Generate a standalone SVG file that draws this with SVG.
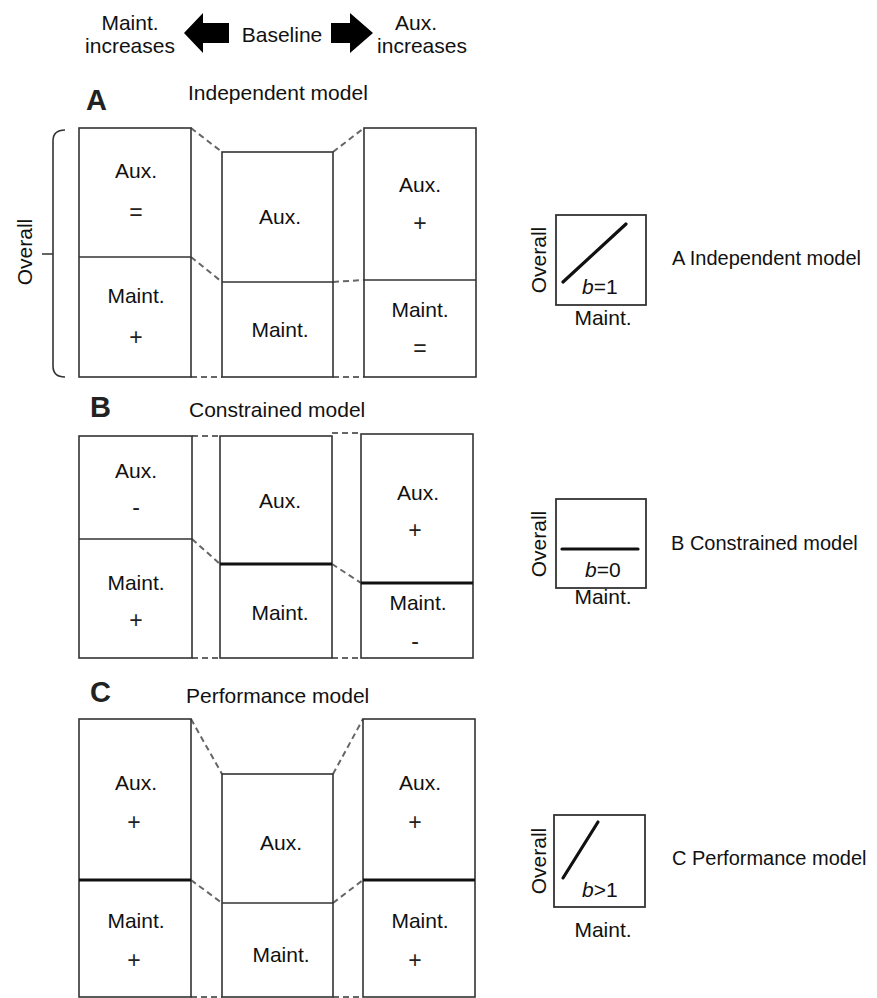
<svg xmlns="http://www.w3.org/2000/svg" width="877" height="998" viewBox="0 0 877 998">
<style>
text{font-family:"Liberation Sans",Arial,sans-serif;font-size:21px;fill:#111}
.c{text-anchor:middle}
.big{font-size:29px;font-weight:bold;fill:#222}
.lab{font-size:20px}
.box{fill:#fff;stroke:#333;stroke-width:1.6}
.div{stroke:#333;stroke-width:1.6;fill:none}
.thick{stroke:#111;stroke-width:3.2;fill:none}
.dash{stroke:#666;stroke-width:2;stroke-dasharray:6 4;fill:none}
.plot{fill:#fff;stroke:#333;stroke-width:1.8}
.pl{stroke:#111;stroke-width:3.2;stroke-linecap:round;fill:none}
.sym{fill:#222;font-size:23px}
</style>
<rect width="877" height="998" fill="#fff"/>

<g id="header">
<text class="c" x="130" y="30">Maint.</text>
<text class="c" x="130" y="53">increases</text>
<polygon points="184,33 203,13 203,23 229,23 229,43 203,43 203,53" fill="#000"/>
<text class="c" x="282" y="42">Baseline</text>
<polygon points="373,33 350,13 350,23 331,23 331,43 350,43 350,53" fill="#000"/>
<text class="c" x="416" y="30">Aux.</text>
<text class="c" x="422" y="53">increases</text>
</g>

<g id="titles">
<text class="big" x="86" y="110">A</text>
<text x="188" y="100">Independent model</text>
<text class="big" x="90" y="417">B</text>
<text x="189" y="417">Constrained model</text>
<text class="big" x="90" y="702">C</text>
<text x="186" y="703">Performance model</text>
</g>

<g id="overall-bracket">
<path d="M65,130 Q53,130 53,141 L53,366 Q53,377 65,377 M42,254 L53,254" fill="none" stroke="#333" stroke-width="1.6"/>
<text class="c" transform="translate(32,252) rotate(-90)">Overall</text>
</g>

<g id="connectors">
<path class="dash" d="M191,128 L222,152 M333,152 L364,128 M191,257 L222,282 M333,282 L364,280 M191,377 L222,377 M333,377 L364,377"/>
<path class="dash" d="M192,436 L220,436 M332,433 L361,433 M192,539 L220,564 M332,564 L361,583 M192,658 L220,658 M332,658 L361,658"/>
<path class="dash" d="M191,719 L222,774 M333,774 L363,719 M191,880 L222,903 M333,903 L363,880 M191,997 L222,997 M333,997 L363,997"/>
</g>

<g id="A-left">
<rect class="box" x="79" y="128" width="112" height="249"/>
<line class="div" x1="79" y1="257" x2="191" y2="257"/>
<text class="c" x="136" y="178">Aux.</text>
<text class="c sym" x="136" y="220">=</text>
<text class="c" x="136" y="303">Maint.</text>
<text class="c sym" x="136" y="345">+</text>
</g>
<g id="A-mid">
<rect class="box" x="222" y="152" width="111" height="225"/>
<line class="div" x1="222" y1="282" x2="333" y2="282"/>
<text class="c" x="280" y="224">Aux.</text>
<text class="c" x="280" y="337">Maint.</text>
</g>
<g id="A-right">
<rect class="box" x="364" y="128" width="112" height="249"/>
<line class="div" x1="364" y1="280" x2="476" y2="280"/>
<text class="c" x="420" y="192">Aux.</text>
<text class="c sym" x="420" y="231">+</text>
<text class="c" x="420" y="317">Maint.</text>
<text class="c sym" x="420" y="356">=</text>
</g>

<g id="B-left">
<rect class="box" x="79" y="436" width="113" height="222"/>
<line class="div" x1="79" y1="539" x2="192" y2="539"/>
<text class="c" x="136" y="478">Aux.</text>
<text class="c sym" x="136" y="515">-</text>
<text class="c" x="136" y="590">Maint.</text>
<text class="c sym" x="136" y="628">+</text>
</g>
<g id="B-mid">
<rect class="box" x="220" y="436" width="112" height="222"/>
<line class="thick" x1="220" y1="564" x2="332" y2="564"/>
<text class="c" x="280" y="508">Aux.</text>
<text class="c" x="280" y="620">Maint.</text>
</g>
<g id="B-right">
<rect class="box" x="361" y="434" width="112" height="224"/>
<line class="thick" x1="361" y1="583" x2="473" y2="583"/>
<text class="c" x="418" y="500">Aux.</text>
<text class="c sym" x="415" y="538">+</text>
<text class="c" x="418" y="610">Maint.</text>
<text class="c sym" x="415" y="649">-</text>
</g>

<g id="C-left">
<rect class="box" x="79" y="719" width="112" height="278"/>
<line class="thick" x1="79" y1="880" x2="191" y2="880"/>
<text class="c" x="136" y="790">Aux.</text>
<text class="c sym" x="134" y="830">+</text>
<text class="c" x="136" y="928">Maint.</text>
<text class="c sym" x="134" y="968">+</text>
</g>
<g id="C-mid">
<rect class="box" x="222" y="774" width="111" height="223"/>
<line class="div" x1="222" y1="903" x2="333" y2="903"/>
<text class="c" x="281" y="850">Aux.</text>
<text class="c" x="281" y="962">Maint.</text>
</g>
<g id="C-right">
<rect class="box" x="363" y="719" width="112" height="278"/>
<line class="thick" x1="363" y1="880" x2="475" y2="880"/>
<text class="c" x="420" y="790">Aux.</text>
<text class="c sym" x="415" y="830">+</text>
<text class="c" x="420" y="928">Maint.</text>
<text class="c sym" x="415" y="968">+</text>
</g>

<g id="plot-A">
<rect class="plot" x="556" y="215" width="90" height="90"/>
<line class="pl" x1="563" y1="282" x2="626" y2="224"/>
<text x="582" y="294"><tspan font-style="italic">b</tspan>=1</text>
<text class="c" transform="translate(546,260) rotate(-90)">Overall</text>
<text class="c" x="603" y="325">Maint.</text>
<text class="lab" x="672" y="265">A Independent model</text>
</g>
<g id="plot-B">
<rect class="plot" x="556" y="499" width="90" height="89"/>
<line class="pl" x1="562" y1="549" x2="638" y2="549"/>
<text x="585" y="577"><tspan font-style="italic">b</tspan>=0</text>
<text class="c" transform="translate(546,544) rotate(-90)">Overall</text>
<text class="c" x="603" y="604">Maint.</text>
<text class="lab" x="671" y="550">B Constrained model</text>
</g>
<g id="plot-C">
<rect class="plot" x="554" y="815" width="91" height="92"/>
<line class="pl" x1="563" y1="878" x2="598" y2="822"/>
<text x="582" y="897"><tspan font-style="italic">b</tspan>&gt;1</text>
<text class="c" transform="translate(546,861) rotate(-90)">Overall</text>
<text class="c" x="603" y="937">Maint.</text>
<text class="lab" x="672" y="865">C Performance model</text>
</g>
</svg>
